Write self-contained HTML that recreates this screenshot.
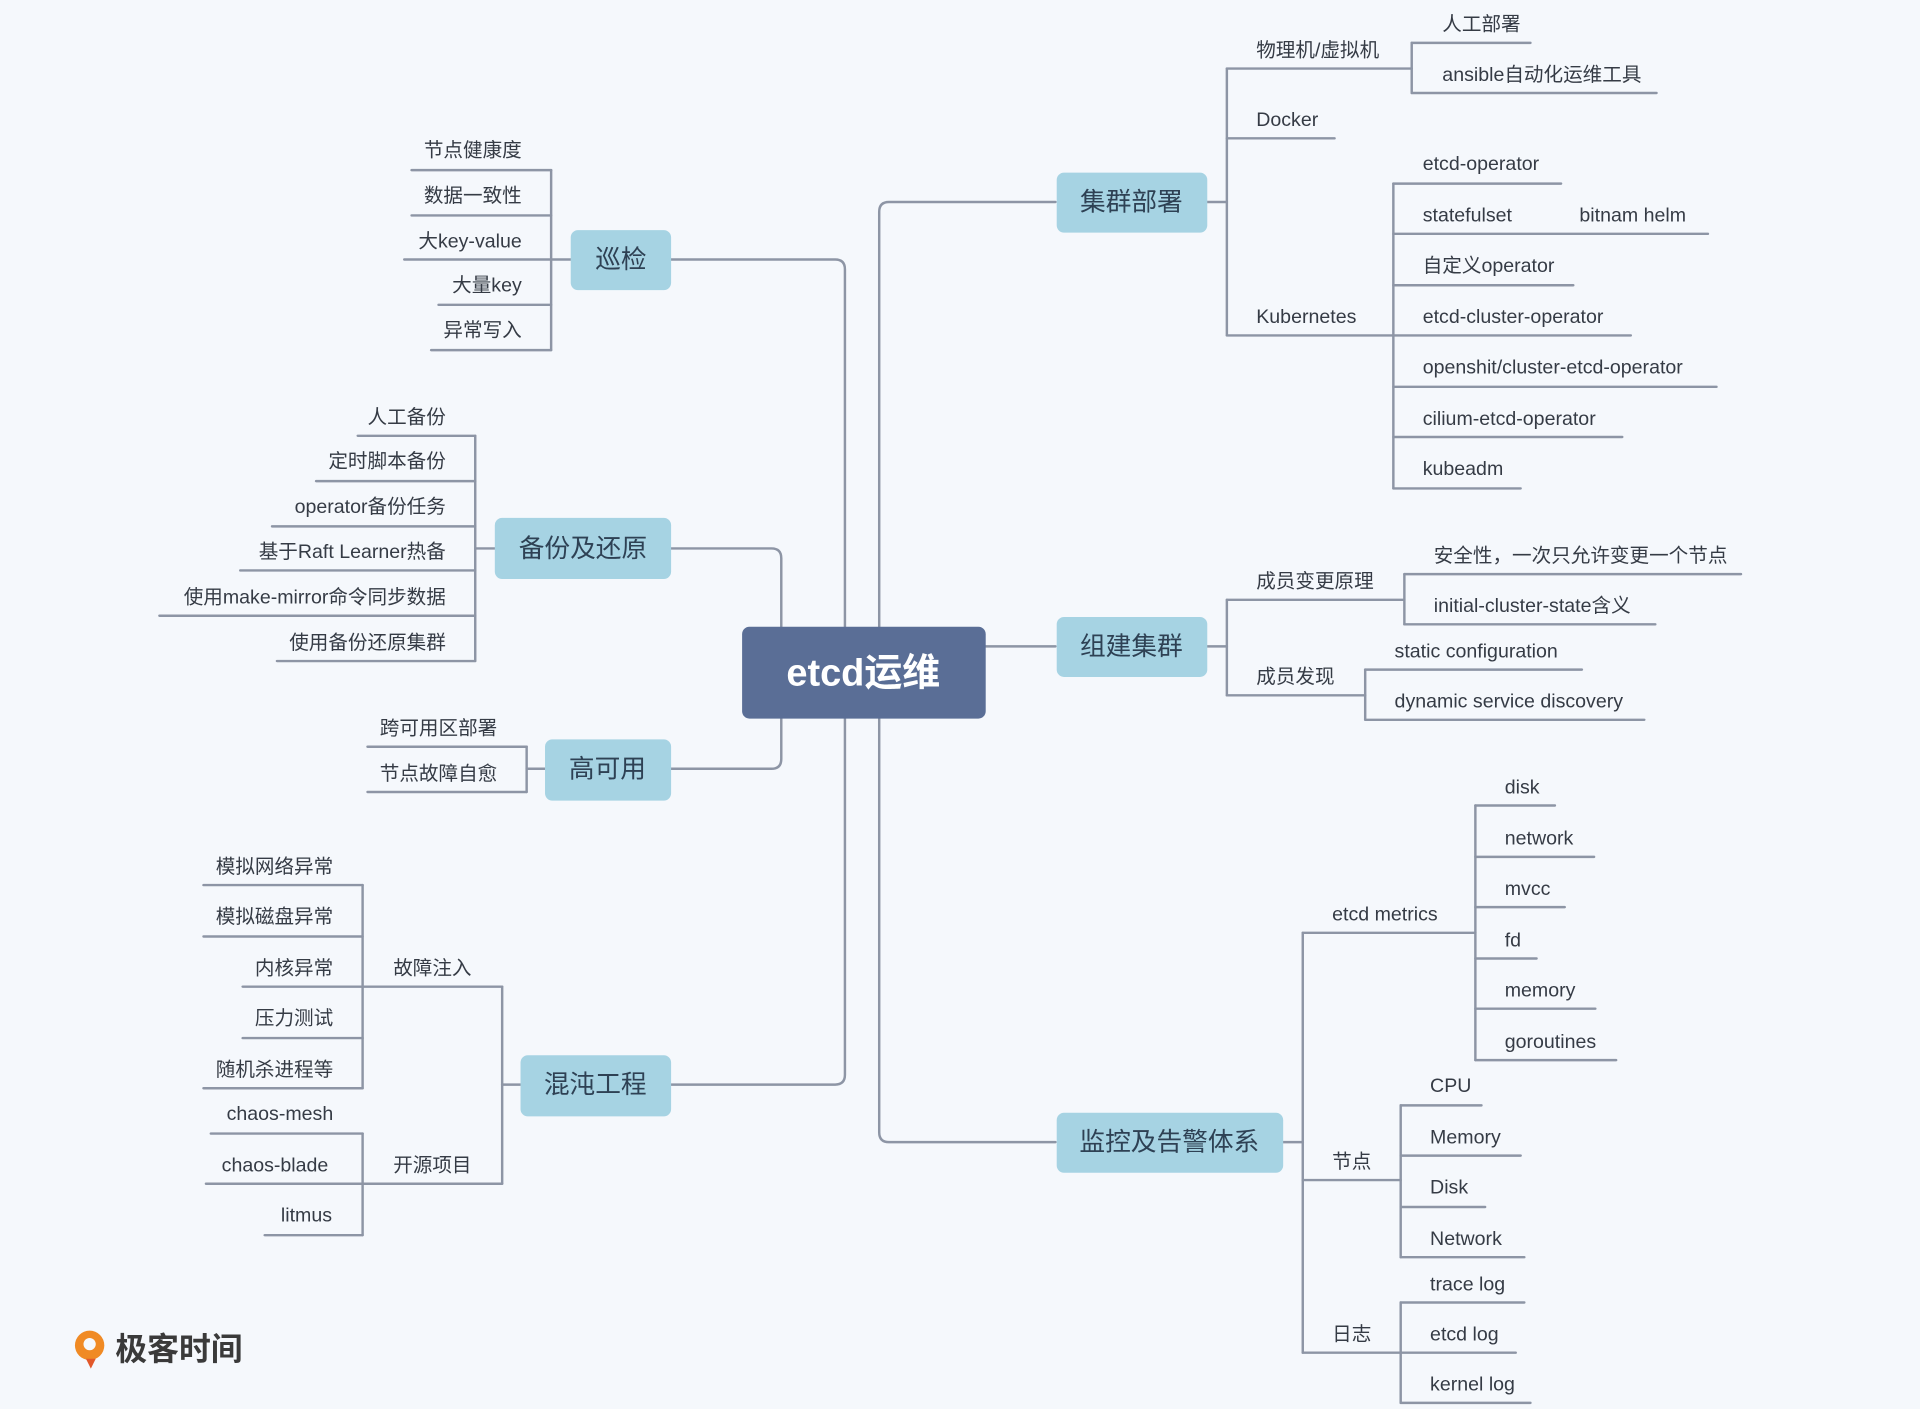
<!DOCTYPE html>
<html><head><meta charset="utf-8">
<style>
html,body{margin:0;padding:0;background:#f5f8fc;}
svg{display:block;}
text{font-family:"Liberation Sans","Noto Sans CJK SC",sans-serif;fill:#353b45;font-size:16px;}
.b{font-size:21px;fill:#2e4154;text-anchor:middle;}
.l{stroke:#8d95a5;stroke-width:2;fill:none;stroke-linecap:round;}
.e{text-anchor:end;}
</style></head><body>
<svg width="1920" height="1409" viewBox="0 0 1568 1151" xmlns="http://www.w3.org/2000/svg">
<rect width="1568" height="1151" fill="#f5f8fc"/>
<g class="l">
<!-- trunks -->
<path d="M548 212 H682 Q690 212 690 220 V512"/>
<path d="M690 587 V878 Q690 886 682 886 H548"/>
<path d="M548 448 H630 Q638 448 638 456 V512"/>
<path d="M548 628 H630 Q638 628 638 620 V587"/>
<path d="M862 165 H726 Q718 165 718 173 V512"/>
<path d="M718 587 V925 Q718 933 726 933 H862"/>
<path d="M805 528 H862"/>
<!-- 巡检 -->
<path d="M466 212 H450"/><path d="M450 139 V286"/>
<path d="M336 139 H450"/><path d="M336 176 H450"/><path d="M330 212 H450"/><path d="M358 249 H450"/><path d="M352 286 H450"/>
<!-- 备份 -->
<path d="M404 448 H388"/><path d="M388 356 V540"/>
<path d="M292 356 H388"/><path d="M258 393 H388"/><path d="M222 430 H388"/><path d="M196 466 H388"/><path d="M130 503 H388"/><path d="M226 540 H388"/>
<!-- 高可用 -->
<path d="M445 628 H430"/><path d="M430 610 V647"/>
<path d="M300 610 H430"/><path d="M300 647 H430"/>
<!-- 混沌 -->
<path d="M425 886 H410"/><path d="M410 806 V967"/>
<path d="M296 806 H410"/><path d="M296 967 H410"/>
<path d="M296 723 V889"/><path d="M296 926 V1009"/>
<path d="M166 723 H296"/><path d="M166 765 H296"/><path d="M198 806 H296"/><path d="M198 848 H296"/><path d="M166 889 H296"/>
<path d="M172 926 H296"/><path d="M168 967 H296"/><path d="M216 1009 H296"/>
<!-- 集群部署 -->
<path d="M986 165 H1002"/><path d="M1002 56 V274"/>
<path d="M1002 56 H1153"/><path d="M1002 113 H1090"/><path d="M1002 274 H1138"/>
<path d="M1153 35 V76"/><path d="M1153 35 H1250"/><path d="M1153 76 H1353"/>
<path d="M1138 150 V399"/>
<path d="M1138 150 H1275"/><path d="M1138 191 H1395"/><path d="M1138 233 H1285"/><path d="M1138 274 H1332"/><path d="M1138 316 H1402"/><path d="M1138 357 H1325"/><path d="M1138 399 H1242"/>
<!-- 组建集群 -->
<path d="M986 528 H1002"/><path d="M1002 490 V568"/>
<path d="M1002 490 H1147"/><path d="M1002 568 H1115"/>
<path d="M1147 469 V510"/><path d="M1147 469 H1422"/><path d="M1147 510 H1352"/>
<path d="M1115 547 V588"/><path d="M1115 547 H1292"/><path d="M1115 588 H1343"/>
<!-- 监控 -->
<path d="M1048 933 H1064"/><path d="M1064 762 V1105"/>
<path d="M1064 762 H1205"/><path d="M1064 964 H1144"/><path d="M1064 1105 H1144"/>
<path d="M1205 658 V866"/>
<path d="M1205 658 H1270"/><path d="M1205 700 H1302"/><path d="M1205 741 H1278"/><path d="M1205 783 H1255"/><path d="M1205 824 H1303"/><path d="M1205 866 H1320"/>
<path d="M1144 903 V1027"/>
<path d="M1144 903 H1210"/><path d="M1144 944 H1242"/><path d="M1144 986 H1213"/><path d="M1144 1027 H1245"/>
<path d="M1144 1064 V1146"/>
<path d="M1144 1064 H1245"/><path d="M1144 1105 H1238"/><path d="M1144 1146 H1250"/>
</g>
<!-- boxes -->
<rect x="606" y="512" width="199" height="75" rx="6" fill="#5a6e96"/>
<text x="705" y="560" style="font-size:31px;fill:#fff;font-weight:bold;text-anchor:middle">etcd运维</text>
<g fill="#a6d3e3">
<rect x="466" y="188" width="82" height="49" rx="6"/>
<rect x="404" y="423" width="144" height="50" rx="6"/>
<rect x="445" y="604" width="103" height="50" rx="6"/>
<rect x="425" y="862" width="123" height="50" rx="6"/>
<rect x="863" y="141" width="123" height="49" rx="6"/>
<rect x="863" y="504" width="123" height="49" rx="6"/>
<rect x="863" y="909" width="185" height="49" rx="6"/>
</g>
<text class="b" x="507" y="219">巡检</text>
<text class="b" x="476" y="455">备份及还原</text>
<text class="b" x="496" y="635">高可用</text>
<text class="b" x="486" y="893">混沌工程</text>
<text class="b" x="924" y="172">集群部署</text>
<text class="b" x="924" y="535">组建集群</text>
<text class="b" x="955" y="940">监控及告警体系</text>
<!-- left leaves -->
<g class="e">
<text class="e" x="426" y="128">节点健康度</text>
<text class="e" x="426" y="165">数据一致性</text>
<text class="e" x="426" y="202">大key-value</text>
<text class="e" x="426" y="238">大量key</text>
<text class="e" x="426" y="275">异常写入</text>
<text class="e" x="364" y="346">人工备份</text>
<text class="e" x="364" y="382">定时脚本备份</text>
<text class="e" x="364" y="419">operator备份任务</text>
<text class="e" x="364" y="456">基于Raft Learner热备</text>
<text class="e" x="364" y="493">使用make-mirror命令同步数据</text>
<text class="e" x="364" y="530">使用备份还原集群</text>
<text class="e" x="406" y="600">跨可用区部署</text>
<text class="e" x="406" y="637">节点故障自愈</text>
<text class="e" x="272" y="713">模拟网络异常</text>
<text class="e" x="272" y="754">模拟磁盘异常</text>
<text class="e" x="272" y="796">内核异常</text>
<text class="e" x="272" y="837">压力测试</text>
<text class="e" x="272" y="879">随机杀进程等</text>
<text class="e" x="272" y="915">chaos-mesh</text>
<text class="e" x="268" y="957">chaos-blade</text>
<text class="e" x="271" y="998">litmus</text>
</g>
<text x="321" y="796">故障注入</text>
<text x="321" y="957">开源项目</text>
<!-- right leaves -->
<text x="1026" y="46">物理机/虚拟机</text>
<text x="1026" y="103">Docker</text>
<text x="1026" y="264">Kubernetes</text>
<text x="1178" y="25">人工部署</text>
<text x="1178" y="66">ansible自动化运维工具</text>
<text x="1162" y="139">etcd-operator</text>
<text x="1162" y="181">statefulset</text>
<text x="1290" y="181">bitnam helm</text>
<text x="1162" y="222">自定义operator</text>
<text x="1162" y="264">etcd-cluster-operator</text>
<text x="1162" y="305">openshit/cluster-etcd-operator</text>
<text x="1162" y="347">cilium-etcd-operator</text>
<text x="1162" y="388">kubeadm</text>
<text x="1026" y="480">成员变更原理</text>
<text x="1026" y="558">成员发现</text>
<text x="1171" y="459">安全性，一次只允许变更一个节点</text>
<text x="1171" y="500">initial-cluster-state含义</text>
<text x="1139" y="537">static configuration</text>
<text x="1139" y="578">dynamic service discovery</text>
<text x="1088" y="752">etcd metrics</text>
<text x="1088" y="954">节点</text>
<text x="1088" y="1095">日志</text>
<text x="1229" y="648">disk</text>
<text x="1229" y="690">network</text>
<text x="1229" y="731">mvcc</text>
<text x="1229" y="773">fd</text>
<text x="1229" y="814">memory</text>
<text x="1229" y="856">goroutines</text>
<text x="1168" y="892">CPU</text>
<text x="1168" y="934">Memory</text>
<text x="1168" y="975">Disk</text>
<text x="1168" y="1017">Network</text>
<text x="1168" y="1054">trace log</text>
<text x="1168" y="1095">etcd log</text>
<text x="1168" y="1136">kernel log</text>
<!-- logo -->
<circle cx="73" cy="1099" r="12" fill="#f08a24"/>
<circle cx="73" cy="1098" r="5" fill="#f5f8fc"/>
<path d="M70 1110 L74 1118 L78 1110 Z" fill="#e2582a"/>
<text x="94" y="1111" style="font-size:26px;font-weight:bold;fill:#3a3a3a">极客时间</text>
</svg>
</body></html>
